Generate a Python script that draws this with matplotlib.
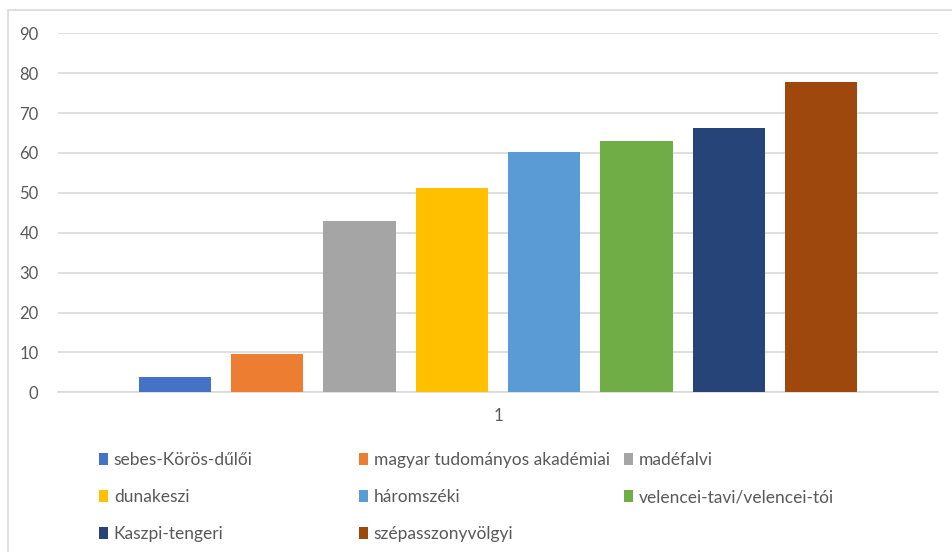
import matplotlib.pyplot as plt
import matplotlib.patches as mpatches
import numpy as np

# Series names and values (one category, eight series)
series = ['sebes-Körös-dűlői', 'magyar tudományos akadémiai', 'madéfalvi',
          'dunakeszi', 'háromszéki', 'velencei-tavi/velencei-tói',
          'Kaszpi-tengeri', 'szépasszonyvölgyi']
values = [3.8, 9.5, 42.9, 51.1, 60.2, 62.9, 66.2, 77.9]
colors = ['#4472C4', '#ED7D31', '#A5A5A5', '#FFC000',
          '#5B9BD5', '#70AD47', '#264478', '#9E480E']
category = '1'
yticks = [0, 10, 20, 30, 40, 50, 60, 70, 80, 90]

plt.rcParams['font.family'] = ['Lato', 'DejaVu Sans']
text_color = '#595959'
grid_color = '#D9D9D9'

W, H = 952, 552
fig = plt.figure(figsize=(W / 100, H / 100), dpi=100)

# plot area in pixel coordinates
left, right, top, bottom = 58, 938, 33.3, 392.3
ax = fig.add_axes([left / W, 1 - bottom / H, (right - left) / W, (bottom - top) / H])

x = np.arange(len(values))
bars = []
for i, (v, c, name) in enumerate(zip(values, colors, series)):
    b = ax.bar(x[i], v, width=0.785, color=c, label=name, zorder=3)
    bars.append(b)

ax.set_xlim(-1.266, len(values) - 1 + 1.266)
ax.set_ylim(0, 90)
ax.set_yticks(yticks)
ax.yaxis.grid(True, color=grid_color, linewidth=1.2, zorder=0)
ax.set_axisbelow(True)
for s in ['top', 'right', 'left']:
    ax.spines[s].set_visible(False)
ax.spines['bottom'].set_color(grid_color)
ax.spines['bottom'].set_linewidth(1.2)
ax.tick_params(axis='y', length=0, pad=14, labelsize=12, labelcolor=text_color)
ax.set_xticks([(len(values) - 1) / 2])
ax.set_xticklabels([category])
ax.tick_params(axis='x', length=0, pad=11, labelsize=12, labelcolor=text_color)

# chart frame
fig.patches.append(mpatches.Rectangle((8 / W, -0.05), 1.0, 1 - 10 / H + 0.05,
                                      transform=fig.transFigure, fill=False,
                                      edgecolor=grid_color, linewidth=1.2))

# legend laid out in three equal columns, filled row by row
col_x = [99, 359, 624]
for c in range(3):
    handles = bars[c::3]
    labels = series[c::3]
    fig.legend(handles, labels, loc='upper left',
               bbox_to_anchor=(col_x[c] / W, 1 - 452 / H),
               frameon=False, fontsize=12.5, labelcolor=text_color,
               handlelength=0.5, handleheight=0.7, handletextpad=0.35,
               labelspacing=1.22, borderpad=0, borderaxespad=0)

fig.savefig('out.png', dpi=100)
